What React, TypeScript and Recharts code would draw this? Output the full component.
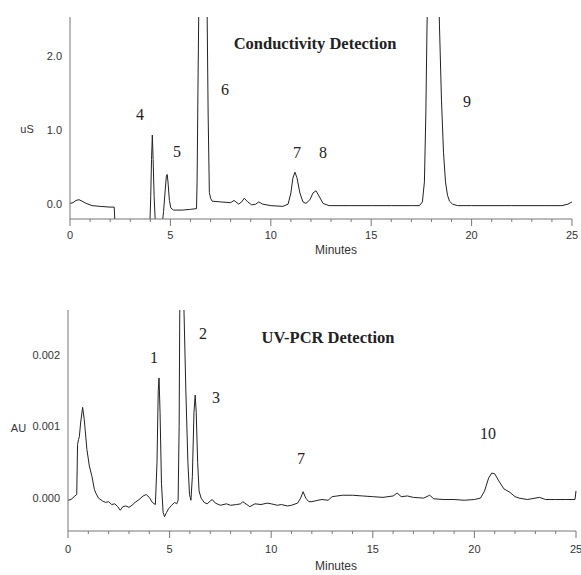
import React from "react";
import { LineChart, Line, XAxis, YAxis, ReferenceDot } from "recharts";

// minutes, uS
const conductivityTrace: [number, number][] = [
  [0, 0.01], [0.15, 0.02], [0.3, 0.05], [0.45, 0.06], [0.6, 0.04], [0.8, 0.01],
  [1.1, -0.02], [1.5, -0.03], [2.0, -0.04], [2.2, -0.04], [2.24, -0.25],
  [3.98, -0.25], [4.02, 0.1], [4.06, 0.6], [4.1, 0.93], [4.14, 0.6], [4.19, 0.1], [4.25, -0.25],
  [4.6, -0.25], [4.66, -0.1], [4.73, 0.15], [4.8, 0.38], [4.84, 0.4], [4.88, 0.3], [4.95, 0.05],
  [5.02, -0.05], [5.15, -0.08], [5.6, -0.08], [6.0, -0.07], [6.3, -0.06],
  [6.33, 0.3], [6.37, 1.5], [6.42, 2.8], [6.5, 3.5], [6.7, 3.5], [6.82, 2.8], [6.88, 1.2],
  [6.94, 0.16], [7.0, 0.08], [7.08, 0.04], [7.5, 0.03], [8.0, 0.02], [8.17, 0.05], [8.4, 0.0],
  [8.55, 0.03], [8.68, 0.08], [8.85, 0.03], [9.05, -0.01], [9.25, 0.0], [9.4, 0.03], [9.6, 0.0],
  [10.0, -0.02], [10.6, -0.03], [10.86, 0.0], [11.0, 0.15], [11.1, 0.35], [11.2, 0.43],
  [11.3, 0.36], [11.45, 0.15], [11.6, 0.03], [11.75, 0.01], [11.95, 0.06], [12.1, 0.15],
  [12.25, 0.18], [12.4, 0.11], [12.6, 0.01], [12.9, -0.02], [14.0, -0.02], [15.0, -0.02],
  [16.0, -0.02], [17.0, -0.02], [17.4, -0.02], [17.55, 0.03], [17.65, 0.3], [17.72, 1.2],
  [17.78, 2.4], [17.85, 3.3], [18.1, 4.0], [18.33, 3.3], [18.4, 2.4], [18.5, 1.4], [18.6, 0.7],
  [18.7, 0.3], [18.8, 0.12], [18.9, 0.04], [19.05, 0.0], [19.3, -0.02], [20.0, -0.02],
  [22.0, -0.02], [24.0, -0.02], [24.5, -0.02], [24.8, 0.0], [25.0, 0.03],
];

// minutes, AU
const uvTrace: [number, number][] = [
  [0, -0.03e-3], [0.15, -0.02e-3], [0.3, 0.02e-3], [0.43, 0.05e-3], [0.47, 0.75e-3],
  [0.52, 0.82e-3], [0.56, 0.86e-3], [0.62, 1.05e-3], [0.72, 1.27e-3], [0.8, 1.1e-3],
  [0.93, 0.68e-3], [1.05, 0.45e-3], [1.18, 0.3e-3], [1.3, 0.12e-3], [1.37, 0.07e-3],
  [1.5, 0.0], [1.7, -0.04e-3], [1.85, -0.06e-3], [2.0, -0.05e-3], [2.15, -0.09e-3],
  [2.3, -0.08e-3], [2.45, -0.12e-3], [2.57, -0.17e-3], [2.7, -0.12e-3], [2.85, -0.11e-3],
  [3.0, -0.13e-3], [3.15, -0.1e-3], [3.3, -0.06e-3], [3.5, -0.02e-3], [3.7, 0.03e-3],
  [3.85, 0.05e-3], [4.0, 0.01e-3], [4.15, -0.06e-3], [4.3, -0.09e-3], [4.38, 0.5e-3],
  [4.44, 1.5e-3], [4.48, 1.68e-3], [4.53, 1.2e-3], [4.6, 0.2e-3], [4.68, -0.2e-3],
  [4.75, -0.26e-3], [4.85, -0.2e-3], [4.95, -0.15e-3], [5.1, -0.1e-3], [5.25, -0.06e-3],
  [5.35, -0.08e-3], [5.42, -0.03e-3], [5.47, 1.0e-3], [5.5, 2.6e-3], [5.55, 3.2e-3],
  [5.65, 3.2e-3], [5.71, 2.6e-3], [5.8, 1.5e-3], [5.9, 0.5e-3], [5.98, 0.05e-3],
  [6.05, -0.03e-3], [6.12, 0.3e-3], [6.2, 1.2e-3], [6.26, 1.44e-3], [6.31, 1.2e-3],
  [6.38, 0.5e-3], [6.45, 0.1e-3], [6.55, 0.0], [6.7, -0.06e-3], [6.85, -0.08e-3],
  [7.0, -0.04e-3], [7.1, -0.02e-3], [7.25, -0.07e-3], [7.5, -0.1e-3], [7.8, -0.08e-3],
  [8.0, -0.1e-3], [8.3, -0.09e-3], [8.5, -0.08e-3], [8.6, -0.05e-3], [8.8, -0.09e-3],
  [8.95, -0.12e-3], [9.2, -0.08e-3], [9.5, -0.09e-3], [9.8, -0.07e-3], [10.0, -0.08e-3],
  [10.3, -0.1e-3], [10.5, -0.09e-3], [10.8, -0.11e-3], [11.0, -0.1e-3], [11.3, -0.07e-3],
  [11.45, 0.0], [11.57, 0.09e-3], [11.7, 0.0], [11.85, -0.05e-3], [12.0, -0.05e-3],
  [12.3, -0.03e-3], [12.5, -0.02e-3], [12.8, -0.03e-3], [13.0, 0.02e-3], [13.5, 0.04e-3],
  [14.0, 0.04e-3], [14.5, 0.03e-3], [15.0, 0.02e-3], [15.5, 0.01e-3], [16.0, 0.03e-3],
  [16.2, 0.07e-3], [16.4, 0.02e-3], [16.7, 0.03e-3], [17.0, 0.01e-3], [17.5, 0.0],
  [17.8, 0.04e-3], [18.0, -0.01e-3], [18.5, -0.02e-3], [19.0, -0.02e-3], [19.5, -0.03e-3],
  [20.0, -0.02e-3], [20.3, 0.0], [20.5, 0.1e-3], [20.7, 0.28e-3], [20.85, 0.35e-3],
  [21.0, 0.34e-3], [21.2, 0.24e-3], [21.45, 0.13e-3], [21.75, 0.08e-3], [22.0, 0.02e-3],
  [22.2, 0.0], [22.6, -0.02e-3], [23.2, 0.01e-3], [23.5, -0.02e-3], [24.0, -0.02e-3],
  [24.5, -0.02e-3], [24.95, -0.02e-3], [25.0, 0.1e-3],
];

const minuteTicks = Array.from({ length: 26 }, (_, i) => i);
const conductivityTicks = [0, 1, 2];
const uvTicks = [0, 0.001, 0.002];

// peak numbers: label, minutes, signal where the number sits
const conductivityPeaks: [string, number, number][] = [
  ["4", 3.49, 1.21], ["5", 5.33, 0.71], ["6", 7.72, 1.54],
  ["7", 11.3, 0.7], ["8", 12.6, 0.7], ["9", 19.77, 1.38],
];
const uvPeaks: [string, number, number][] = [
  ["1", 4.23, 0.00197], ["2", 6.64, 0.00231], ["3", 7.28, 0.00141],
  ["7", 11.47, 0.00056], ["10", 20.67, 0.00091],
];

const SANS = "'Liberation Sans', Arial, sans-serif";
const SERIF = "'Liberation Serif', 'Times New Roman', serif";
const INK = "#222";
const AXIS = "#777";

const MinuteTick = ({ x, y, payload, labelDy }: any) => {
  const major = payload.value % 5 === 0;
  return (
    <g>
      <line x1={x} x2={x} y1={y} y2={y + (major ? 7 : 3)} stroke={AXIS} strokeWidth={1} />
      {major && (
        <text x={x} y={y + labelDy} textAnchor="middle" fontSize={11} fontFamily={SANS} fill="#333">
          {payload.value}
        </text>
      )}
    </g>
  );
};

const peakLabel = (text: string) => ({
  value: text,
  position: "center" as const,
  fontSize: 16,
  fontFamily: SERIF,
  fill: INK,
});

export default function App() {
  const topData = conductivityTrace.map(([t, v]) => ({ t, v }));
  const bottomData = uvTrace.map(([t, v]) => ({ t, v }));

  return (
    <div style={{ position: "absolute", left: 0, top: 0, width: 581, height: 575, background: "#fff" }}>
      <div style={{ position: "absolute", left: 0, top: 0 }}>
        <LineChart width={581} height={290} data={topData} margin={{ top: 17, right: 9, bottom: 41, left: 0 }}>
          <XAxis
            dataKey="t"
            type="number"
            domain={[0, 25]}
            ticks={minuteTicks}
            interval={0}
            height={30}
            tickSize={0}
            tickMargin={0}
            stroke={AXIS}
            tick={(p: any) => <MinuteTick {...p} labelDy={20} />}
          />
          <YAxis
            type="number"
            domain={[-0.2, 2.52]}
            ticks={conductivityTicks}
            allowDataOverflow
            width={70}
            tickLine={false}
            stroke={AXIS}
            tickFormatter={(v: number) => v.toFixed(1)}
            tick={{ fontSize: 11, fontFamily: SANS, fill: "#333" }}
          />
          <Line dataKey="v" type="linear" stroke={INK} strokeWidth={1} dot={false} isAnimationActive={false} />
          {conductivityPeaks.map(([name, t, v], i) => (
            <ReferenceDot key={`c-${i}`} x={t} y={v} r={0} fill="none" stroke="none" label={peakLabel(name)} />
          ))}
        </LineChart>
      </div>

      <div style={{ position: "absolute", left: 0, top: 290 }}>
        <LineChart width={581} height={285} data={bottomData} margin={{ top: 20, right: 5, bottom: 14, left: 0 }}>
          <XAxis
            dataKey="t"
            type="number"
            domain={[0, 25]}
            ticks={minuteTicks}
            interval={0}
            height={30}
            tickSize={0}
            tickMargin={0}
            stroke={AXIS}
            tick={(p: any) => <MinuteTick {...p} labelDy={22} />}
          />
          <YAxis
            type="number"
            domain={[-0.00046, 0.00263]}
            ticks={uvTicks}
            allowDataOverflow
            width={68}
            tickLine={false}
            stroke={AXIS}
            tickFormatter={(v: number) => v.toFixed(3)}
            tick={{ fontSize: 11, fontFamily: SANS, fill: "#333" }}
          />
          <Line dataKey="v" type="linear" stroke={INK} strokeWidth={1} dot={false} isAnimationActive={false} />
          {uvPeaks.map(([name, t, v], i) => (
            <ReferenceDot key={`u-${i}`} x={t} y={v} r={0} fill="none" stroke="none" label={peakLabel(name)} />
          ))}
        </LineChart>
      </div>

      <svg width={581} height={575} style={{ position: "absolute", left: 0, top: 0, pointerEvents: "none" }}>
        <text x={315} y={49} textAnchor="middle" fontFamily={SERIF} fontWeight="bold" fontSize={16.5} fill={INK}>
          Conductivity Detection
        </text>
        <text x={328} y={343} textAnchor="middle" fontFamily={SERIF} fontWeight="bold" fontSize={16.5} fill={INK}>
          UV-PCR Detection
        </text>
        <text x={27} y={133} textAnchor="middle" fontFamily={SANS} fontSize={11} fill="#333">uS</text>
        <text x={18.5} y={432} textAnchor="middle" fontFamily={SANS} fontSize={11} fill="#333">AU</text>
        <text x={336} y={254} textAnchor="middle" fontFamily={SANS} fontSize={12} fill="#333">Minutes</text>
        <text x={336} y={570} textAnchor="middle" fontFamily={SANS} fontSize={12} fill="#333">Minutes</text>
      </svg>
    </div>
  );
}
